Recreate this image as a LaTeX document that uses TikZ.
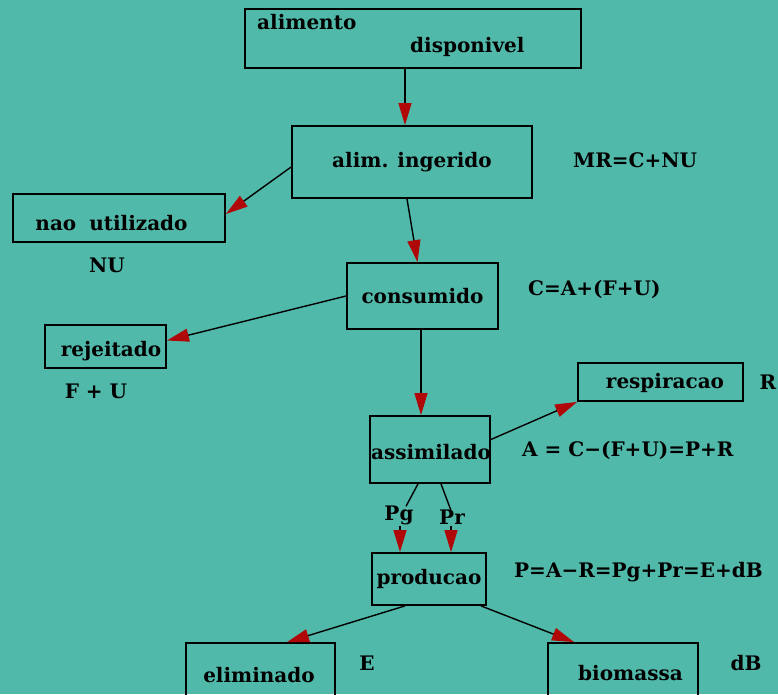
\documentclass[tikz,border=0pt]{standalone}
\usepackage{fontspec}
\setmainfont{DejaVu Serif}
\usetikzlibrary{arrows.meta,calc}
\definecolor{bgteal}{RGB}{81,185,170}
\definecolor{tipred}{RGB}{176,8,8}
\begin{document}
\begin{tikzpicture}[x=1pt,y=-1pt,
  font=\fontsize{20}{24}\selectfont\bfseries,
  box/.style={draw=black, line width=1.8pt, inner sep=0pt},
  txt/.style={inner sep=1pt},
  flow/.style={draw=black, line width=1.4pt,
    -{Triangle[length=22pt,width=13pt,color=tipred]}},
  link/.style={draw=black, line width=1.4pt}]
\fill[bgteal] (0,0) rectangle (778,694);
\useasboundingbox (0,0) rectangle (778,694);

% boxes
\node[box, minimum width=336pt, minimum height=59pt] (alim) at (413,38.5) {};
\node[txt, anchor=west] (alimA) at (256,22) {alimento};
\node[txt, anchor=west] (alimB) at (409,47) {disponivel};

\node[box, minimum width=240pt, minimum height=72pt] (ing) at (412,162) {alim.\hspace{9pt}ingerido};

\node[box, minimum width=212pt, minimum height=48pt] (nao) at (119,218) {};
\node[txt] (naoT) at (111.5,223) {nao\hspace{13pt}utilizado};

\node[box, minimum width=151pt, minimum height=66pt] (cons) at (422.5,296) {consumido};

\node[box, minimum width=121pt, minimum height=43pt] (rej) at (105.5,346.5) {};
\node[txt] (rejT) at (111,351) {rejeitado};

\node[box, minimum width=165pt, minimum height=38pt] (resp) at (660.5,382) {};
\node[txt] (respT) at (665,383) {respiracao};

\node[box, minimum width=120pt, minimum height=67pt] (assim) at (430,449.5) {};
\node[txt] (assimT) at (431,452) {assimilado};

\node[box, minimum width=114pt, minimum height=52pt] (prod) at (429,579) {producao};

\node[box, minimum width=149pt, minimum height=66pt] (elim) at (260.5,676) {};
\node[txt] (elimT) at (259,675) {eliminado};

\node[box, minimum width=150pt, minimum height=66pt] (bio) at (623,676) {};
\node[txt] (bioT) at (630.5,673) {biomassa};

% side formulas and symbols
\node[txt, anchor=west] (mr) at (572,160) {MR=C+NU};
\node[txt, anchor=west] (ceq) at (527,289) {C=A+(F+U)};
\node[txt] (nu) at (107,265) {NU};
\node[txt] (fu) at (96,391) {F + U};
\node[txt] (r) at (768,382) {R};
\node[txt, anchor=west] (aeq) at (521,450) {A = C−(F+U)=P+R};
\node[txt, anchor=west] (peq) at (513,572) {P=A−R=Pg+Pr=E+dB};
\node[txt] (e) at (367,663) {E};
\node[txt] (db) at (746,663) {dB};
\node[txt] (pg) at (399,515) {Pg};
\node[txt] (pr) at (452,517) {Pr};

% connectors
\draw[flow] ($(alim.south)+(-8,0)$) -- ($(ing.north)+(-7,0)$);
\draw[flow] ($(ing.west)+(0,5)$) -- ($(nao.east)+(0,-4)$);
\draw[flow] ($(ing.south)+(-5,0)$) -- ($(cons.north)+(-5,0)$);
\draw[flow] (cons.west) -- ($(rej.east)+(0,-6)$);
\draw[flow] ($(cons.south)+(-1.5,0)$) -- ($(assim.north)+(-9,0)$);
\draw[flow] ($(assim.east)+(0,-10)$) -- (resp.south west);
\draw[link] ($(assim.south)+(-12,0)$) -- ($(pg.north)+(7,2)$);
\draw[flow] ($(pg.south)+(1,0)$) -- ($(prod.north)+(-29,0)$);
\draw[link] ($(assim.south)+(11,0)$) -- ($(pr.north)+(-1,2)$);
\draw[flow] ($(pr.south)+(-1,0)$) -- ($(prod.north)+(22,0)$);
\draw[flow] ($(prod.south)+(-24,0)$) -- ($(elim.north)+(26.5,0)$);
\draw[flow] ($(prod.south)+(52,0)$) -- ($(bio.north)+(-49,0)$);
\end{tikzpicture}
\end{document}
